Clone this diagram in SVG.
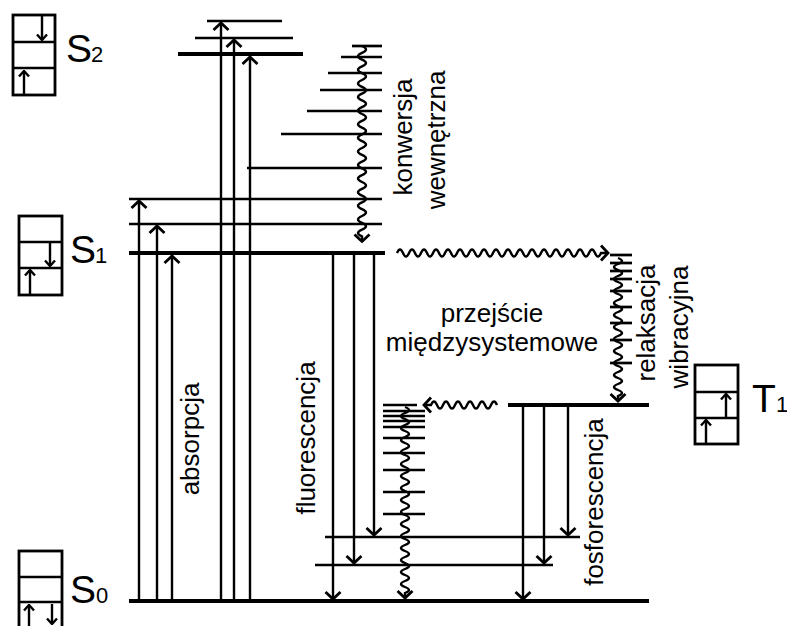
<svg xmlns="http://www.w3.org/2000/svg" width="787" height="626" viewBox="0 0 787 626">
<defs>
<marker id="ah" viewBox="-10 -10 12 20" refX="0" refY="0" markerWidth="12" markerHeight="20" markerUnits="userSpaceOnUse" orient="auto"><path d="M-7,-7.5 L0,0 L-7,7.5" fill="none" stroke="#000" stroke-width="2.8"/></marker>
<marker id="sa" viewBox="-8 -7 9 14" refX="0" refY="0" markerWidth="9" markerHeight="14" markerUnits="userSpaceOnUse" orient="auto"><path d="M-5.5,-5 L0,0 L-5.5,5" fill="none" stroke="#000" stroke-width="2.4"/></marker>
</defs>
<style>
.lv{stroke:#000;stroke-width:2.7;fill:none}
.lt{stroke:#000;stroke-width:4.2;fill:none}
.ar{stroke:#000;stroke-width:2.4;fill:none;marker-end:url(#ah)}
.wv{stroke:#000;stroke-width:2.4;fill:none;marker-end:url(#ah)}
.bx{stroke:#000;stroke-width:2.8;fill:#fff}
.sm{stroke:#000;stroke-width:2.4;fill:none;marker-end:url(#sa)}
.lb{font-family:"Liberation Sans",Arial,sans-serif;font-size:26px;fill:#000}
.st{font-family:"Liberation Sans",Arial,sans-serif;font-size:39px;fill:#000}
.sub{font-size:22px}
</style>
<rect width="787" height="626" fill="#fff"/>

<g id="S2-box">
<rect class="bx" x="13" y="15" width="42" height="80"/>
<line class="lv" x1="13" y1="42" x2="55" y2="42"/>
<line class="lv" x1="13" y1="68" x2="55" y2="68"/>
<line class="sm" x1="42" y1="16" x2="42" y2="40"/>
<line class="sm" x1="24" y1="94" x2="24" y2="71"/>
<text class="st" x="66" y="62">S<tspan class="sub" x="91">2</tspan></text>
</g>

<g id="S1-box">
<rect class="bx" x="19" y="216" width="43" height="79"/>
<line class="lv" x1="19" y1="242" x2="62" y2="242"/>
<line class="lv" x1="19" y1="268" x2="62" y2="268"/>
<line class="sm" x1="50" y1="243" x2="50" y2="266"/>
<line class="sm" x1="30" y1="294" x2="30" y2="270"/>
<text class="st" x="70" y="263">S<tspan class="sub" x="95">1</tspan></text>
</g>

<g id="S0-box">
<rect class="bx" x="19" y="551" width="43" height="85"/>
<line class="lv" x1="19" y1="577" x2="62" y2="577"/>
<line class="lv" x1="19" y1="602" x2="62" y2="602"/>
<line class="sm" x1="29" y1="626" x2="29" y2="605"/>
<line class="sm" x1="52" y1="604" x2="52" y2="624"/>
<text class="st" x="70" y="603">S<tspan class="sub" x="96">0</tspan></text>
</g>

<g id="T1-box">
<rect class="bx" x="695" y="365" width="43" height="79"/>
<line class="lv" x1="695" y1="392" x2="738" y2="392"/>
<line class="lv" x1="695" y1="418" x2="738" y2="418"/>
<line class="sm" x1="726" y1="417" x2="726" y2="394"/>
<line class="sm" x1="706" y1="443" x2="706" y2="420"/>
<text class="st" x="752" y="412">T<tspan class="sub" x="776">1</tspan></text>
</g>

<g id="S2-levels">
<line class="lv" x1="207" y1="21" x2="282" y2="21"/>
<line class="lv" x1="195" y1="38" x2="293" y2="38"/>
<line class="lt" x1="178" y1="54" x2="303" y2="54"/>
</g>

<g id="S2-S1-ladder">
<line class="lv" x1="352" y1="46" x2="382" y2="46"/>
<line class="lv" x1="341" y1="57" x2="382" y2="57"/>
<line class="lv" x1="328" y1="73" x2="382" y2="73"/>
<line class="lv" x1="320" y1="90" x2="382" y2="90"/>
<line class="lv" x1="307" y1="111" x2="382" y2="111"/>
<line class="lv" x1="281" y1="134" x2="382" y2="134"/>
<line class="lv" x1="247" y1="168" x2="382" y2="168"/>
</g>

<g id="S1-levels">
<line class="lv" x1="129" y1="199" x2="382" y2="199"/>
<line class="lv" x1="129" y1="224" x2="382" y2="224"/>
<line class="lt" x1="129" y1="253" x2="385" y2="253"/>
</g>

<g id="T1-levels">
<line class="lv" x1="610" y1="255" x2="632" y2="255"/>
<line class="lv" x1="610" y1="263" x2="632" y2="263"/>
<line class="lv" x1="610" y1="271" x2="632" y2="271"/>
<line class="lv" x1="610" y1="279" x2="632" y2="279"/>
<line class="lv" x1="610" y1="291" x2="632" y2="291"/>
<line class="lv" x1="610" y1="307" x2="632" y2="307"/>
<line class="lv" x1="610" y1="323" x2="632" y2="323"/>
<line class="lv" x1="610" y1="340" x2="632" y2="340"/>
<line class="lv" x1="610" y1="363" x2="632" y2="363"/>
<line class="lt" x1="508" y1="405" x2="649" y2="405"/>
</g>

<g id="S0-ladder">
<line class="lv" x1="383" y1="405" x2="417" y2="405"/>
<line class="lv" x1="383" y1="411" x2="425" y2="411"/>
<line class="lv" x1="383" y1="416" x2="425" y2="416"/>
<line class="lv" x1="383" y1="421" x2="425" y2="421"/>
<line class="lv" x1="383" y1="427" x2="425" y2="427"/>
<line class="lv" x1="383" y1="438" x2="425" y2="438"/>
<line class="lv" x1="383" y1="453" x2="425" y2="453"/>
<line class="lv" x1="383" y1="470" x2="425" y2="470"/>
<line class="lv" x1="383" y1="492" x2="425" y2="492"/>
<line class="lv" x1="383" y1="514" x2="425" y2="514"/>
</g>

<g id="S0-levels">
<line class="lv" x1="325" y1="537" x2="580" y2="537"/>
<line class="lv" x1="315" y1="565" x2="553" y2="565"/>
<line class="lt" x1="129" y1="601" x2="649" y2="601"/>
</g>

<g id="connectors">
<line class="ar" x1="139" y1="601" x2="139" y2="201"/>
<line class="ar" x1="157" y1="601" x2="157" y2="226"/>
<line class="ar" x1="172" y1="601" x2="172" y2="256"/>
<line class="ar" x1="221" y1="601" x2="221" y2="23"/>
<line class="ar" x1="234" y1="601" x2="234" y2="40"/>
<line class="ar" x1="250" y1="601" x2="250" y2="57"/>
<line class="ar" x1="333" y1="255" x2="333" y2="599"/>
<line class="ar" x1="354" y1="255" x2="354" y2="563"/>
<line class="ar" x1="374" y1="255" x2="374" y2="535"/>
<line class="ar" x1="523" y1="407" x2="523" y2="599"/>
<line class="ar" x1="544" y1="407" x2="544" y2="563"/>
<line class="ar" x1="568" y1="407" x2="568" y2="535"/>
<path class="wv" d="M362,46 q8,3.4 0,6.8 t0,6.8 t0,6.8 t0,6.8 t0,6.8 t0,6.8 t0,6.8 t0,6.8 t0,6.8 t0,6.8 t0,6.8 t0,6.8 t0,6.8 t0,6.8 t0,6.8 t0,6.8 t0,6.8 t0,6.8 t0,6.8 t0,6.8 t0,6.8 t0,6.8 t0,6.8 t0,6.8 t0,6.8 t0,6.8 t0,6.8 t0,6.8 l0,5"/>
<path class="wv" d="M397,253 q3,-7 6,0 t6,0 t6,0 t6,0 t6,0 t6,0 t6,0 t6,0 t6,0 t6,0 t6,0 t6,0 t6,0 t6,0 t6,0 t6,0 t6,0 t6,0 t6,0 t6,0 t6,0 t6,0 t6,0 t6,0 t6,0 t6,0 t6,0 t6,0 t6,0 t6,0 t6,0 t6,0 t6,0 t6,0 l7,0"/>
<path class="wv" d="M618,258 q8,3 0,6 t0,6 t0,6 t0,6 t0,6 t0,6 t0,6 t0,6 t0,6 t0,6 t0,6 t0,6 t0,6 t0,6 t0,6 t0,6 t0,6 t0,6 t0,6 t0,6 t0,6 t0,6 t0,6 l0,5"/>
<path class="wv" d="M497,405 q-3,-7 -6,0 t-6,0 t-6,0 t-6,0 t-6,0 t-6,0 t-6,0 t-6,0 t-6,0 t-6,0 t-6,0 l-7,0"/>
<path class="wv" d="M405,407 q8,3 0,6 t0,6 t0,6 t0,6 t0,6 t0,6 t0,6 t0,6 t0,6 t0,6 t0,6 t0,6 t0,6 t0,6 t0,6 t0,6 t0,6 t0,6 t0,6 t0,6 t0,6 t0,6 t0,6 t0,6 t0,6 t0,6 t0,6 t0,6 t0,6 t0,6 t0,6 l0,5"/>
</g>

<g id="labels">
<text class="lb" text-anchor="middle" transform="translate(412,137) rotate(-90)">konwersja</text>
<text class="lb" text-anchor="middle" transform="translate(445,140) rotate(-90)">wewnętrzna</text>
<text class="lb" text-anchor="middle" transform="translate(199,439) rotate(-90)">absorpcja</text>
<text class="lb" text-anchor="middle" transform="translate(315,438) rotate(-90)">fluorescencja</text>
<text class="lb" text-anchor="middle" transform="translate(603,502) rotate(-90)">fosforescencja</text>
<text class="lb" text-anchor="middle" transform="translate(655,323) rotate(-90)">relaksacja</text>
<text class="lb" text-anchor="middle" transform="translate(688,327) rotate(-90)">wibracyjna</text>
<text class="lb" text-anchor="middle" x="492" y="322">przejście</text>
<text class="lb" text-anchor="middle" x="492" y="351">międzysystemowe</text>
</g>
</svg>
